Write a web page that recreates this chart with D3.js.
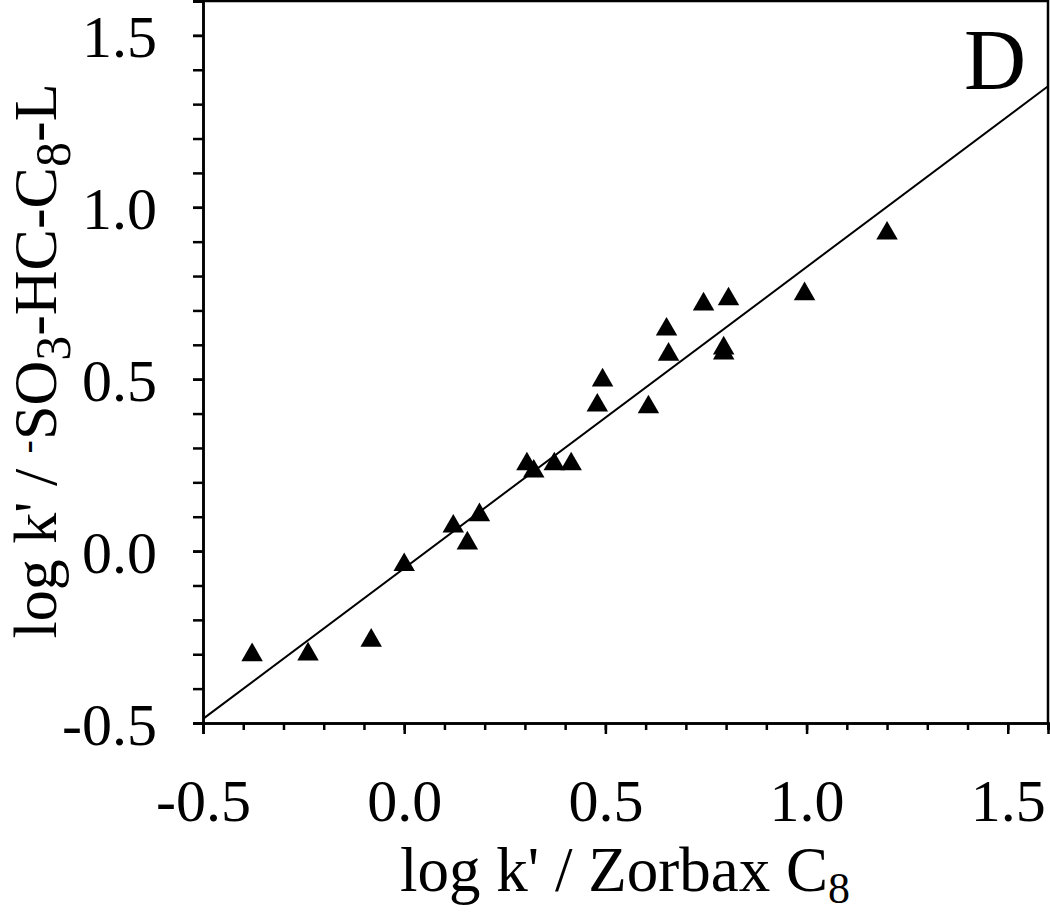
<!DOCTYPE html>
<html>
<head>
<meta charset="utf-8">
<script src="https://cdn.jsdelivr.net/npm/d3@7"></script>
<style>
  body { margin: 0; background: #fff; }
  text { font-family: "Liberation Serif", "Times New Roman", serif; fill: #000; }
</style>
</head>
<body>
<div id="chart"></div>
<script>
// log k' values
var zorbaxC8 = [-0.378, -0.239, -0.082, 0.0, 0.122, 0.157, 0.187, 0.305, 0.322, 0.373, 0.415,
                0.480, 0.493, 0.607, 0.652, 0.657, 0.744, 0.806, 0.794, 0.794, 0.995, 1.200];
var so3HcC8L = [-0.302, -0.300, -0.260, -0.040, 0.072, 0.023, 0.105, 0.253, 0.232, 0.253, 0.253,
                0.424, 0.497, 0.419, 0.645, 0.572, 0.718, 0.733, 0.590, 0.575, 0.748, 0.924];
// fitted line end points
var fitX = [-0.5, 1.6];
var fitY = [-0.488, 1.352];
var majorTicks = [-0.5, 0.0, 0.5, 1.0, 1.5];
var minorTicks = d3.range(-5, 17).map(function(i){ return i / 10; });

var w = 1050, h = 913;
var margin = {top: 1, right: 2, bottom: 190, left: 203};

var svg = d3.select("#chart")
  .append("svg")
  .attr("width", w)
  .attr("height", h);

var x = d3.scaleLinear().domain([-0.5, 1.6]).range([margin.left, w - margin.right]);
var y = d3.scaleLinear().domain([-0.5, 1.6]).range([h - margin.bottom, margin.top]);

// plain hyphen for negatives, like the original
var fmt = function(d){ return d3.format(".1f")(d).replace("\u2212", "-"); };

// frame (top and right sides)
svg.append("path")
  .attr("d", "M" + x(-0.5) + "," + y(1.6) + "H" + x(1.6) + "V" + y(-0.5))
  .attr("fill", "none")
  .attr("stroke", "#000")
  .attr("stroke-width", 2.5);

// x axis
var xMinor = svg.append("g")
  .attr("transform", "translate(0," + y(-0.5) + ")")
  .call(d3.axisBottom(x).tickValues(minorTicks).tickSize(7).tickFormat(""));
var xMajor = svg.append("g")
  .attr("transform", "translate(0," + y(-0.5) + ")")
  .call(d3.axisBottom(x).tickValues(majorTicks).tickSize(11).tickPadding(44).tickFormat(fmt));

// y axis
var yMinor = svg.append("g")
  .attr("transform", "translate(" + x(-0.5) + ",0)")
  .call(d3.axisLeft(y).tickValues(minorTicks).tickSize(10).tickFormat(""));
var yMajor = svg.append("g")
  .attr("transform", "translate(" + x(-0.5) + ",0)")
  .call(d3.axisLeft(y).tickValues(majorTicks).tickSize(10).tickPadding(36).tickFormat(fmt));

[xMinor, xMajor, yMinor, yMajor].forEach(function(g){
  g.select(".domain").attr("stroke-width", 2.5).attr("stroke", "#000");
  g.selectAll(".tick line").attr("stroke-width", 2.5).attr("stroke", "#000");
  g.selectAll("text").attr("font-size", "60px")
    .attr("font-family", "Liberation Serif, Times New Roman, serif");
});
yMajor.selectAll("text").attr("dy", "0.35em");

// fitted line
svg.append("line")
  .attr("x1", x(fitX[0])).attr("y1", y(fitY[0]))
  .attr("x2", x(fitX[1])).attr("y2", y(fitY[1]))
  .attr("stroke", "#000")
  .attr("stroke-width", 2);

// points
var pts = zorbaxC8.map(function(d, i){ return {x: d, y: so3HcC8L[i]}; });
svg.selectAll(".pt")
  .data(pts)
  .enter()
  .append("path")
  .attr("class", "pt")
  .attr("d", d3.symbol().type(d3.symbolTriangle).size(200))
  .attr("transform", function(d){ return "translate(" + x(d.x) + "," + y(d.y) + ")"; })
  .attr("fill", "#000");

// panel letter
svg.append("text")
  .attr("x", 1026)
  .attr("y", 89)
  .attr("text-anchor", "end")
  .attr("font-size", "86px")
  .text("D");

// x title
var xt = svg.append("text")
  .attr("x", 625)
  .attr("y", 891)
  .attr("text-anchor", "middle")
  .attr("font-size", "63px");
xt.append("tspan").text("log k' / Zorbax C");
xt.append("tspan").attr("font-size", "44px").attr("dy", 12).text("8");

// y title
var yt = svg.append("text")
  .attr("transform", "translate(56,361) rotate(-90)")
  .attr("text-anchor", "middle")
  .attr("font-size", "62px");
yt.append("tspan").text("log k' / ");
yt.append("tspan").attr("font-size", "40px").attr("dy", -16).text("-");
yt.append("tspan").attr("dy", 16).text("SO");
yt.append("tspan").attr("font-size", "50px").attr("dy", 14).text("3");
yt.append("tspan").attr("dy", -14).text("-HC-C");
yt.append("tspan").attr("font-size", "50px").attr("dy", 14).text("8");
yt.append("tspan").attr("dy", -14).text("-L");
</script>
</body>
</html>
